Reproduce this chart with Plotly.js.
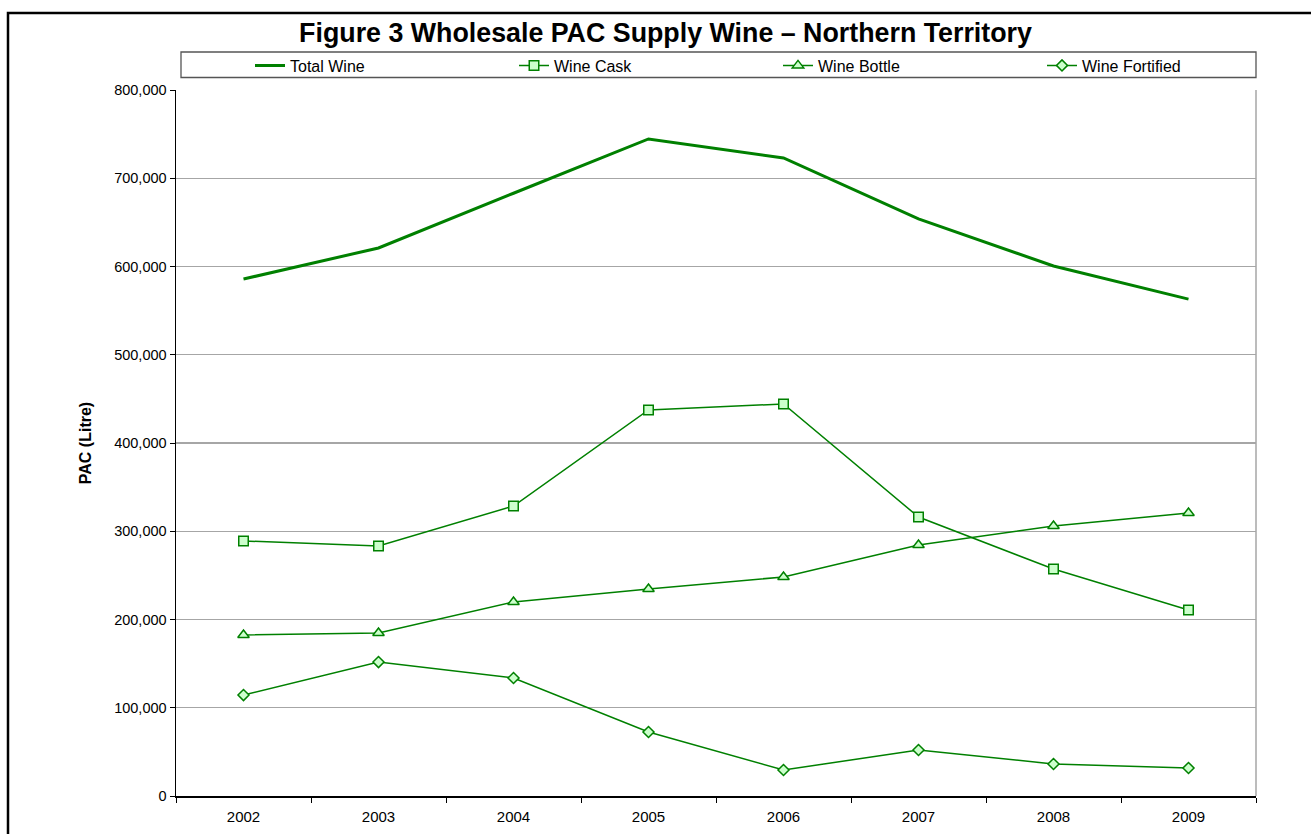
<!DOCTYPE html>
<html>
<head>
<meta charset="utf-8">
<script src="https://cdn.plot.ly/plotly-3.0.1.min.js"></script>
<style>
  html, body { margin: 0; padding: 0; background: #fff; }
  #chart { width: 1311px; height: 834px; }
</style>
</head>
<body>
<div id="chart"></div>
<script>
// ---- Data ----
const years = ["2002", "2003", "2004", "2005", "2006", "2007", "2008", "2009"];
const totalWine = [585800, 621000, 683000, 744500, 723000, 654000, 600600, 563000];
const wineCask = [289000, 283300, 328600, 437400, 444200, 316100, 257200, 210800];
const wineBottle = [182400, 184700, 219800, 234600, 248200, 284400, 306000, 320700];
const wineFortified = [114400, 151800, 133700, 72500, 29500, 52100, 36300, 31700];
const yTicks = [0, 100000, 200000, 300000, 400000, 500000, 600000, 700000, 800000];

const W = 1311, H = 834;
const M = { l: 176, r: 55, t: 90, b: 38 };
const pw = W - M.l - M.r, ph = H - M.t - M.b;
const px = x => (x - M.l) / pw;          // pixel -> paper x
const py = y => (H - M.b - y) / ph;      // pixel -> paper y

const GREEN = "#008000";
const LIGHT = "#ccffcc";
const FONT = "Liberation Sans, Arial, sans-serif";

const traces = [
  { name: "Total Wine", x: years, y: totalWine, type: "scatter", mode: "lines",
    line: { color: GREEN, width: 3 } },
  { name: "Wine Cask", x: years, y: wineCask, type: "scatter", mode: "lines+markers",
    line: { color: GREEN, width: 1.5 },
    marker: { symbol: "square", size: 9.5, color: LIGHT, line: { color: GREEN, width: 1.5 } } },
  { name: "Wine Bottle", x: years, y: wineBottle, type: "scatter", mode: "lines+markers",
    line: { color: GREEN, width: 1.5 },
    marker: { symbol: "triangle-up", size: 10, color: LIGHT, line: { color: GREEN, width: 1.5 } } },
  { name: "Wine Fortified", x: years, y: wineFortified, type: "scatter", mode: "lines+markers",
    legendwidth: 110,
    line: { color: GREEN, width: 1.5 },
    marker: { symbol: "diamond", size: 8.5, color: LIGHT, line: { color: GREEN, width: 1.5 } } }
];

const layout = {
  width: W, height: H,
  margin: M,
  paper_bgcolor: "#fff", plot_bgcolor: "#fff",
  font: { family: FONT, size: 15, color: "#000" },
  title: { text: "<b>Figure 3 Wholesale PAC Supply Wine \u2013 Northern Territory</b>",
    font: { family: FONT, size: 26.8, color: "#000" },
    x: px(665.5), xref: "paper", xanchor: "center", y: 1 - 33 / H, yanchor: "middle" },
  showlegend: true,
  legend: { orientation: "h", x: px(250), xanchor: "left", y: py(65.5), yanchor: "middle",
    entrywidth: 219, entrywidthmode: "pixels", bgcolor: "rgba(0,0,0,0)", borderwidth: 0,
    font: { family: FONT, size: 16, color: "#000" }, traceorder: "normal" },
  xaxis: {
    type: "category", range: [-0.5, years.length - 0.5],
    showline: true, linecolor: "#000", linewidth: 1.5,
    ticks: "outside", tickson: "boundaries", ticklen: 5, tickcolor: "#000", tickwidth: 1,
    ticklabelstandoff: 6,
    showgrid: false, zeroline: false, fixedrange: true,
    tickfont: { family: FONT, size: 15, color: "#000" }
  },
  yaxis: {
    range: [0, 800000], tickvals: yTicks, tickformat: ",d",
    showline: true, linecolor: "#000", linewidth: 1.5,
    ticks: "outside", ticklen: 5, tickcolor: "#000", tickwidth: 1,
    showgrid: true, gridcolor: "#a6a6a6", gridwidth: 1.2, zeroline: false,
    tickfont: { family: FONT, size: 14.5, color: "#000" },
    title: { text: "<b>PAC (Litre)</b>", font: { family: FONT, size: 16, color: "#000" }, standoff: 18 }
  },
  shapes: [
    // right border of plot area
    { type: "line", xref: "paper", yref: "paper", x0: 1, x1: 1, y0: 0, y1: 1,
      line: { color: "#a6a6a6", width: 1.5 } },
    // legend box
    { type: "rect", xref: "paper", yref: "paper", x0: px(181), x1: px(1256), y0: py(77.5), y1: py(52),
      line: { color: "#555", width: 1.3 }, fillcolor: "rgba(0,0,0,0)" },
    // outer chart border (top & left)
    { type: "path", xref: "paper", yref: "paper",
      path: "M " + px(8) + " " + py(H + 5) + " L " + px(8) + " " + py(13) + " L " + px(W + 5) + " " + py(13),
      line: { color: "#000", width: 2.5 } }
  ]
};

Plotly.newPlot("chart", traces, layout, { displayModeBar: false, staticPlot: true });
</script>
</body>
</html>
